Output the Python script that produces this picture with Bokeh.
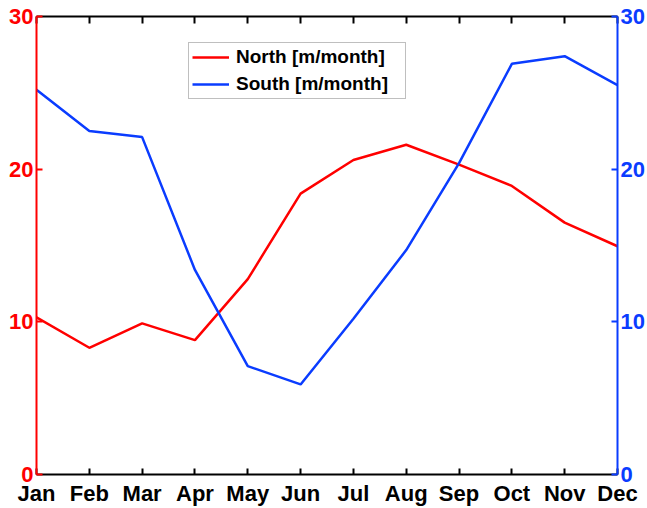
from bokeh.plotting import figure
from bokeh.models import Range1d, LinearAxis, FixedTicker, Legend, LegendItem
from bokeh.embed import file_html
from bokeh.resources import INLINE

months = ["Jan", "Feb", "Mar", "Apr", "May", "Jun", "Jul", "Aug", "Sep", "Oct", "Nov", "Dec"]
north = [10.3, 8.3, 9.9, 8.8, 12.8, 18.4, 20.6, 21.6, 20.3, 18.9, 16.5, 14.95]
south = [25.2, 22.5, 22.1, 13.4, 7.1, 5.9, 10.2, 14.7, 20.4, 26.9, 27.4, 25.5]
y_ticks = [0, 10, 20, 30]

RED = "#ff0000"
BLUE = "#0a3cff"
FONT = "Liberation Sans"

x = list(range(len(months)))

p = figure(width=647, height=508, output_backend="svg", toolbar_location=None,
           x_range=Range1d(0, len(months) - 1), y_range=Range1d(0, 30),
           x_axis_location=None, y_axis_location=None,
           min_border_left=36, min_border_right=29, min_border_top=16, min_border_bottom=32)
p.extra_y_ranges = {"right": Range1d(0, 30)}
p.grid.visible = False
p.outline_line_color = None
p.background_fill_color = "white"
p.border_fill_color = "white"


def style(ax, color, label_color="same", size="22px"):
    ax.axis_line_color = color
    ax.axis_line_width = 2
    ax.major_tick_line_color = color
    ax.major_tick_line_width = 2
    ax.major_tick_in = 6
    ax.major_tick_out = 0
    ax.minor_tick_line_color = None
    ax.major_label_text_color = color if label_color == "same" else label_color
    ax.major_label_text_font = FONT
    ax.major_label_text_font_size = size
    ax.major_label_text_font_style = "bold"
    ax.major_label_standoff = 3


left = LinearAxis(ticker=FixedTicker(ticks=y_ticks))
style(left, RED)
right = LinearAxis(y_range_name="right", ticker=FixedTicker(ticks=y_ticks))
style(right, BLUE)
bottom = LinearAxis(ticker=FixedTicker(ticks=x),
                    major_label_overrides={i: m for i, m in enumerate(months)})
style(bottom, "black")
bottom.major_label_standoff = 6
top = LinearAxis(ticker=FixedTicker(ticks=x))
style(top, "black", label_color=None, size="10px")
top.major_label_standoff = 0
top.major_tick_in = 7

p.add_layout(bottom, "below")
p.add_layout(top, "above")
p.add_layout(left, "left")
p.add_layout(right, "right")

r1 = p.line(x, north, line_color=RED, line_width=2.5)
r2 = p.line(x, south, line_color=BLUE, line_width=2.5, y_range_name="right")

legend = Legend(items=[LegendItem(label="North [m/month]", renderers=[r1]),
                       LegendItem(label="South [m/month]", renderers=[r2])],
                location=(152, 375))
legend.label_text_font = FONT
legend.label_text_font_size = "19px"
legend.label_text_font_style = "bold"
legend.label_text_color = "black"
legend.glyph_width = 37
legend.glyph_height = 20
legend.label_height = 20
legend.label_width = 166
legend.spacing = 5
legend.padding = 3
legend.margin = 0
legend.label_standoff = 7
legend.border_line_color = "#7f7f7f"
legend.border_line_width = 1
legend.background_fill_color = "white"
legend.background_fill_alpha = 1
p.add_layout(legend)

open("out.html", "w").write(file_html(p, INLINE))
